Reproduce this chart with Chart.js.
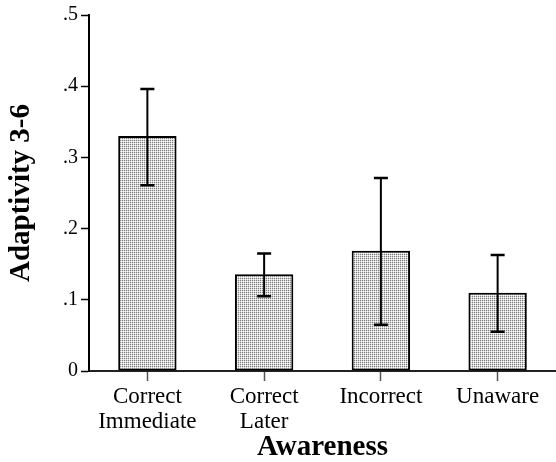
<!DOCTYPE html>
<html>
<head>
<meta charset="utf-8">
<script src="https://cdn.jsdelivr.net/npm/chart.js@4/dist/chart.umd.min.js"></script>
<style>
  html, body { margin: 0; padding: 0; background: #fff; }
  .chart-holder { width: 556px; height: 462px; }
</style>
</head>
<body>
<div class="chart-holder"><canvas id="chart"></canvas></div>
<script>
const categories = [['Correct', 'Immediate'], ['Correct', 'Later'], 'Incorrect', 'Unaware'];
const means = [0.33, 0.136, 0.169, 0.11];
const errLow = [0.261, 0.105, 0.065, 0.055];
const errHigh = [0.396, 0.165, 0.271, 0.163];
const yTickLabels = ['0', '.1', '.2', '.3', '.4', '.5'];

const serif = "'Liberation Serif', 'Times New Roman', serif";

// small dot lattice like the printed screen tone
const makeDots = () => {
  const c = document.createElement('canvas');
  c.width = 2;
  c.height = 2;
  const g = c.getContext('2d');
  g.fillStyle = '#ffffff';
  g.fillRect(0, 0, 2, 2);
  g.fillStyle = '#d6d6d6';
  g.fillRect(1, 0, 1, 1);
  g.fillRect(0, 1, 1, 1);
  g.fillStyle = '#808080';
  g.fillRect(0, 0, 1, 1);
  return g.createPattern(c, 'repeat');
};

// error bars drawn through the y scale
const errorBars = {
  id: 'errorBars',
  afterDatasetsDraw(chart) {
    const { ctx } = chart;
    const y = chart.scales.y;
    const meta = chart.getDatasetMeta(0);
    ctx.save();
    ctx.strokeStyle = '#000';
    meta.data.forEach((bar, i) => {
      const top = y.getPixelForValue(errHigh[i]);
      const bottom = y.getPixelForValue(errLow[i]);
      ctx.lineWidth = 2;
      ctx.beginPath();
      ctx.moveTo(bar.x, top);
      ctx.lineTo(bar.x, bottom);
      ctx.stroke();
      ctx.lineWidth = 2.5;
      ctx.beginPath();
      ctx.moveTo(bar.x - 7, top);
      ctx.lineTo(bar.x + 7, top);
      ctx.moveTo(bar.x - 7, bottom);
      ctx.lineTo(bar.x + 7, bottom);
      ctx.stroke();
    });
    ctx.restore();
  },
};

new Chart(document.getElementById('chart'), {
  type: 'bar',
  data: {
    labels: categories,
    datasets: [
      {
        data: means,
        backgroundColor: makeDots(),
        borderColor: '#000',
        borderWidth: 2,
        borderSkipped: false,
        barPercentage: 0.5,
        categoryPercentage: 1,
      },
    ],
  },
  options: {
    responsive: true,
    maintainAspectRatio: false,
    animation: false,
    layout: { padding: { top: 15, right: 0, left: 0, bottom: 0 } },
    plugins: {
      legend: { display: false },
      tooltip: { enabled: false },
    },
    scales: {
      x: {
        afterFit: (scale) => { scale.height = 91; },
        grid: {
          offset: false,
          drawOnChartArea: false,
          drawTicks: true,
          tickLength: 10,
          tickColor: '#555',
          tickWidth: 1.5,
        },
        border: { color: '#222', width: 2 },
        ticks: {
          color: '#000',
          padding: 4,
          maxRotation: 0,
          autoSkip: false,
          font: { family: serif, size: 23, lineHeight: 1.08 },
        },
        title: {
          display: true,
          text: 'Awareness',
          color: '#000',
          padding: { top: 0, bottom: 0 },
          font: { family: serif, size: 29, weight: 'bold', lineHeight: 1 },
        },
      },
      y: {
        min: 0,
        max: 0.5,
        afterFit: (scale) => { scale.width = 89; },
        grid: {
          drawOnChartArea: false,
          drawTicks: true,
          tickLength: 8,
          tickColor: '#000',
          tickWidth: 1.5,
        },
        border: { color: '#000', width: 2 },
        ticks: {
          stepSize: 0.1,
          color: '#000',
          padding: 3,
          font: { family: serif, size: 20 },
          callback: (value, index) => yTickLabels[index],
        },
        title: {
          display: true,
          text: 'Adaptivity 3-6',
          color: '#000',
          padding: { top: 7, bottom: 0 },
          font: { family: serif, size: 29, weight: 'bold', lineHeight: 1 },
        },
      },
    },
  },
  plugins: [errorBars],
});
</script>
</body>
</html>
